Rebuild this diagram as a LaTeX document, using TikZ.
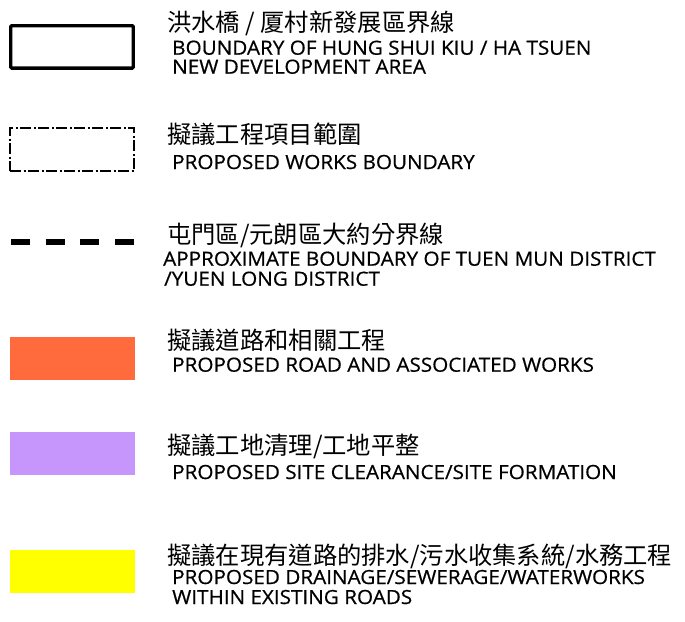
\documentclass[tikz,border=0pt]{standalone}
\usepackage{fontspec}
\setmainfont{Open Sans}[FakeStretch=1.06,FakeBold=0.6]
\newfontfamily\cjk{Noto Sans CJK TC}
\definecolor{roadorange}{HTML}{FF6B3D}
\definecolor{sitelilac}{HTML}{C796FD}
\definecolor{drainyellow}{HTML}{FFFF00}
\begin{document}
\begin{tikzpicture}[x=1pt,y=-1pt,
  zh/.style={anchor=base west,inner sep=0pt,font=\cjk\fontsize{24.3}{24}\selectfont},
  en/.style={anchor=base west,inner sep=0pt,align=left,font=\fontsize{19.5}{20}\selectfont},
  swatch/.style={draw=none,minimum width=125pt,minimum height=43pt,inner sep=0pt},
  ]
\useasboundingbox (0,0) rectangle (685,621);
% symbols
\node[draw=black,line width=3.3pt,rounded corners=1pt,minimum width=122.6pt,minimum height=42.4pt,inner sep=0pt] (s1) at (72,46.9) {};
\node[draw=black,line width=2pt,dash pattern=on 11pt off 2.5pt on 2pt off 2.5pt,minimum width=124pt,minimum height=43pt,inner sep=0pt] (s2) at (72,149.5) {};
\coordinate (d1) at (11,241.7);
\coordinate (d2) at (134,241.7);
\draw[line width=6pt,dash pattern=on 19pt off 15.67pt] (d1) -- (d2);
\node[swatch,fill=roadorange] (s4) at (72.5,358) {};
\node[swatch,fill=sitelilac] (s5) at (72.5,453) {};
\node[swatch,fill=drainyellow] (s6) at (72.5,571.3) {};
% texts
\node[zh] (z1) at (167,31.3) {洪水橋 / 厦村新發展區界線};
\node[en] (e1a) at (172,54.7) {BOUNDARY OF HUNG SHUI KIU / HA TSUEN};
\node[en] (e1b) at (172,73.7) {NEW DEVELOPMENT AREA};
\node[zh] (z2) at (167,143.3) {擬議工程項目範圍};
\node[en] (e2) at (172,169) {PROPOSED WORKS BOUNDARY};
\node[zh] (z3) at (167,243.5) {屯門區/元朗區大約分界線};
\node[en] (e3a) at (163,265.7) {APPROXIMATE BOUNDARY OF TUEN MUN DISTRICT};
\node[en] (e3b) at (164,285.7) {/YUEN LONG DISTRICT};
\node[zh] (z4) at (167,349) {擬議道路和相關工程};
\node[en] (e4) at (172,371.7) {PROPOSED ROAD AND ASSOCIATED WORKS};
\node[zh] (z5) at (167,454) {擬議工地清理/工地平整};
\node[en] (e5) at (172,479) {PROPOSED SITE CLEARANCE/SITE FORMATION};
\node[zh] (z6) at (167,564) {擬議在現有道路的排水/污水收集系統/水務工程};
\node[en] (e6a) at (172,584) {PROPOSED DRAINAGE/SEWERAGE/WATERWORKS};
\node[en] (e6b) at (172,604) {WITHIN EXISTING ROADS};
\end{tikzpicture}
\end{document}
